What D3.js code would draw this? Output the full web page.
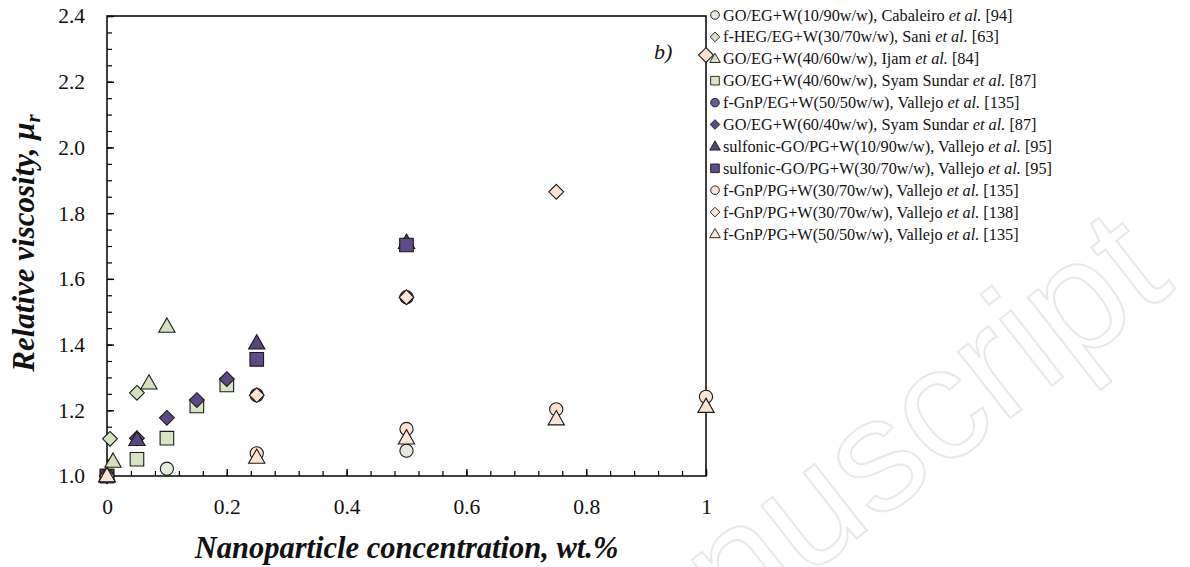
<!DOCTYPE html>
<html>
<head>
<meta charset="utf-8">
<script src="https://cdn.jsdelivr.net/npm/d3@7"></script>
<style>
  html, body { margin: 0; padding: 0; background: #fff; }
  svg { display: block; }
  text { font-family: "Liberation Serif", "Times New Roman", serif; }
</style>
</head>
<body>
<svg id="chart" width="1190" height="567"></svg>
<script>
// ---- data: relative viscosity vs nanoparticle concentration (wt.%) ----
const cabaleiroGO_EG10 = [[0, 1.0], [0.1, 1.022], [0.5, 1.077]];
const saniHEG_EG30 = [[0, 1.0], [0.005, 1.113], [0.05, 1.253]];
const ijamGO_EG40 = [[0, 1.0], [0.01, 1.044], [0.07, 1.282], [0.1, 1.455]];
const syamGO_EG40 = [[0, 1.0], [0.05, 1.051], [0.1, 1.115], [0.15, 1.213], [0.2, 1.277]];
const vallejoGnP_EG50 = [[0, 1.0], [0.25, 1.246], [0.5, 1.544]];
const syamGO_EG60 = [[0, 1.0], [0.05, 1.115], [0.1, 1.177], [0.15, 1.231], [0.2, 1.295]];
const vallejoSGO_PG10 = [[0, 1.0], [0.05, 1.11], [0.25, 1.404], [0.5, 1.71]];
const vallejoSGO_PG30 = [[0, 1.0], [0.25, 1.355], [0.5, 1.703]];
const vallejoGnP_PG30a = [[0, 1.0], [0.25, 1.069], [0.5, 1.143], [0.75, 1.203], [1.0, 1.241]];
const vallejoGnP_PG30b = [[0, 1.0], [0.25, 1.246], [0.5, 1.544], [0.75, 1.865], [1.0, 2.281]];
const vallejoGnP_PG50 = [[0, 1.0], [0.25, 1.056], [0.5, 1.115], [0.75, 1.173], [1.0, 1.211]];

const xTicks = [0, 0.2, 0.4, 0.6, 0.8, 1];
const xTickLabels = ["0", "0.2", "0.4", "0.6", "0.8", "1"];
const yTicks = [1.0, 1.2, 1.4, 1.6, 1.8, 2.0, 2.2, 2.4];

// legend entries: [main text, reference]
const series = [
  { name: "GO/EG+W(10/90w/w), Cabaleiro ", ref: " [94]", data: cabaleiroGO_EG10, shape: "circle", fill: "#e4ebda" },
  { name: "f-HEG/EG+W(30/70w/w), Sani ", ref: " [63]", data: saniHEG_EG30, shape: "diamond", fill: "#d3e1be" },
  { name: "GO/EG+W(40/60w/w), Ijam ", ref: " [84]", data: ijamGO_EG40, shape: "triangle", fill: "#d3e1be" },
  { name: "GO/EG+W(40/60w/w), Syam Sundar ", ref: " [87]", data: syamGO_EG40, shape: "square", fill: "#d7e4c5" },
  { name: "f-GnP/EG+W(50/50w/w), Vallejo ", ref: " [135]", data: vallejoGnP_EG50, shape: "circle", fill: "#6a5994" },
  { name: "GO/EG+W(60/40w/w), Syam Sundar ", ref: " [87]", data: syamGO_EG60, shape: "diamond", fill: "#5d4a85" },
  { name: "sulfonic-GO/PG+W(10/90w/w), Vallejo ", ref: " [95]", data: vallejoSGO_PG10, shape: "triangle", fill: "#594681" },
  { name: "sulfonic-GO/PG+W(30/70w/w), Vallejo ", ref: " [95]", data: vallejoSGO_PG30, shape: "square", fill: "#5e4b87" },
  { name: "f-GnP/PG+W(30/70w/w), Vallejo ", ref: " [135]", data: vallejoGnP_PG30a, shape: "circle", fill: "#fde3d3" },
  { name: "f-GnP/PG+W(30/70w/w), Vallejo ", ref: " [138]", data: vallejoGnP_PG30b, shape: "diamond", fill: "#fde3d3" },
  { name: "f-GnP/PG+W(50/50w/w), Vallejo ", ref: " [135]", data: vallejoGnP_PG50, shape: "triangle", fill: "#fde3d3" }
];

// ---- layout ----
const plot = { left: 107, right: 706, top: 16, bottom: 476 };
const svg = d3.select("#chart");

const x = d3.scaleLinear().domain([0, 1]).range([plot.left, plot.right]);
const y = d3.scaleLinear().domain([1.0, 2.4]).range([plot.bottom, plot.top]);

// background watermark
svg.append("text")
  .attr("x", 0).attr("y", 0)
  .attr("transform", "translate(560,770) rotate(-38)")
  .attr("font-size", 160)
  .style("font-family", "Liberation Sans, Arial, sans-serif")
  .attr("fill", "none")
  .attr("stroke", "#e9e9e9")
  .attr("stroke-width", 2)
  .text("Manuscript");

// marker shapes scaled by a base size s (half-width)
function shapePath(shape, s) {
  switch (shape) {
    case "circle":
      return `M${s},0A${s},${s} 0 1,1 ${-s},0A${s},${s} 0 1,1 ${s},0Z`;
    case "square":
      return `M${-s},${-s}H${s}V${s}H${-s}Z`;
    case "diamond": {
      const d = s * 1.12;
      return `M0,${-d}L${d},0L0,${d}L${-d},0Z`;
    }
    case "triangle": {
      const w = s * 1.2, h = s * 2.1;
      return `M0,${-h * 0.6}L${w},${h * 0.4}L${-w},${h * 0.4}Z`;
    }
  }
}
const plotSize = { circle: 6.6, square: 6.8, diamond: 6.6, triangle: 6.8 };
const legendSize = { circle: 4.3, square: 4.3, diamond: 4.3, triangle: 4.4 };

// ---- axes ----
const yMinor = d3.range(1.0, 2.4001, 0.05);
const xMinor = d3.range(0, 1.0001, 0.04);

const yAxis = d3.axisLeft(y).tickValues(yMinor)
  .tickSize(-5).tickFormat("");
svg.append("g").attr("transform", `translate(${plot.left},0)`).call(yAxis)
  .call(g => g.select(".domain").remove())
  .call(g => g.selectAll("line").attr("stroke", "#000").attr("stroke-width", 1.2));
const yAxisMajor = d3.axisLeft(y).tickValues(yTicks)
  .tickSize(-7).tickPadding(22).tickFormat(d3.format(".1f"));
svg.append("g").attr("transform", `translate(${plot.left},0)`).call(yAxisMajor)
  .call(g => g.select(".domain").remove())
  .call(g => g.selectAll("line").attr("stroke", "#000").attr("stroke-width", 1.4))
  .call(g => g.selectAll("text").attr("font-size", 21.5).attr("fill", "#111"));

const xAxis = d3.axisBottom(x).tickValues(xMinor).tickSize(-5).tickFormat("");
svg.append("g").attr("transform", `translate(0,${plot.bottom})`).call(xAxis)
  .call(g => g.select(".domain").remove())
  .call(g => g.selectAll("line").attr("stroke", "#000").attr("stroke-width", 1.2));
const xAxisMajor = d3.axisBottom(x).tickValues(xTicks).tickSize(-7).tickPadding(23)
  .tickFormat((d, i) => xTickLabels[i]);
svg.append("g").attr("transform", `translate(0,${plot.bottom})`).call(xAxisMajor)
  .call(g => g.select(".domain").remove())
  .call(g => g.selectAll("line").attr("stroke", "#000").attr("stroke-width", 1.4))
  .call(g => g.selectAll("text").attr("font-size", 21.5).attr("fill", "#111"));

// frame
svg.append("rect")
  .attr("x", plot.left).attr("y", plot.top)
  .attr("width", plot.right - plot.left).attr("height", plot.bottom - plot.top)
  .attr("fill", "none").attr("stroke", "#000").attr("stroke-width", 1.5);

// panel tag
svg.append("text").attr("x", 654).attr("y", 59)
  .attr("font-size", 22).attr("font-style", "italic").attr("fill", "#111")
  .text("b)");

// ---- markers ----
series.forEach(sr => {
  svg.append("g").selectAll("path").data(sr.data).join("path")
    .attr("transform", d => `translate(${x(d[0])},${y(d[1])})`)
    .attr("d", shapePath(sr.shape, plotSize[sr.shape]))
    .attr("fill", sr.fill)
    .attr("stroke", "#1a1a1a").attr("stroke-width", 1.1);
});

// ---- legend ----
const legend = svg.append("g").attr("transform", "translate(715,15)");
const rowH = 21.9;
series.forEach((sr, i) => {
  const row = legend.append("g").attr("transform", `translate(0,${i * rowH})`);
  row.append("path").attr("d", shapePath(sr.shape, legendSize[sr.shape]))
    .attr("fill", sr.fill).attr("stroke", "#1a1a1a").attr("stroke-width", 0.9);
  const t = row.append("text").attr("x", 8).attr("y", 5.5)
    .attr("font-size", 16.3).attr("fill", "#111");
  t.append("tspan").text(sr.name);
  t.append("tspan").attr("font-style", "italic").text("et al.");
  t.append("tspan").text(sr.ref);
});

// ---- axis titles ----
svg.append("text")
  .attr("x", (plot.left + plot.right) / 2).attr("y", 558)
  .attr("text-anchor", "middle")
  .attr("font-size", 30.5).attr("font-weight", "bold").attr("font-style", "italic")
  .attr("fill", "#111")
  .text("Nanoparticle concentration, wt.%");

const yTitle = svg.append("text")
  .attr("transform", `translate(34,243) rotate(-90)`)
  .attr("text-anchor", "middle")
  .attr("font-size", 31).attr("font-weight", "bold").attr("font-style", "italic")
  .attr("fill", "#111");
yTitle.append("tspan").text("Relative viscosity, μ");
yTitle.append("tspan").attr("font-size", 21).attr("dy", 6).text("r");
</script>
</body>
</html>
